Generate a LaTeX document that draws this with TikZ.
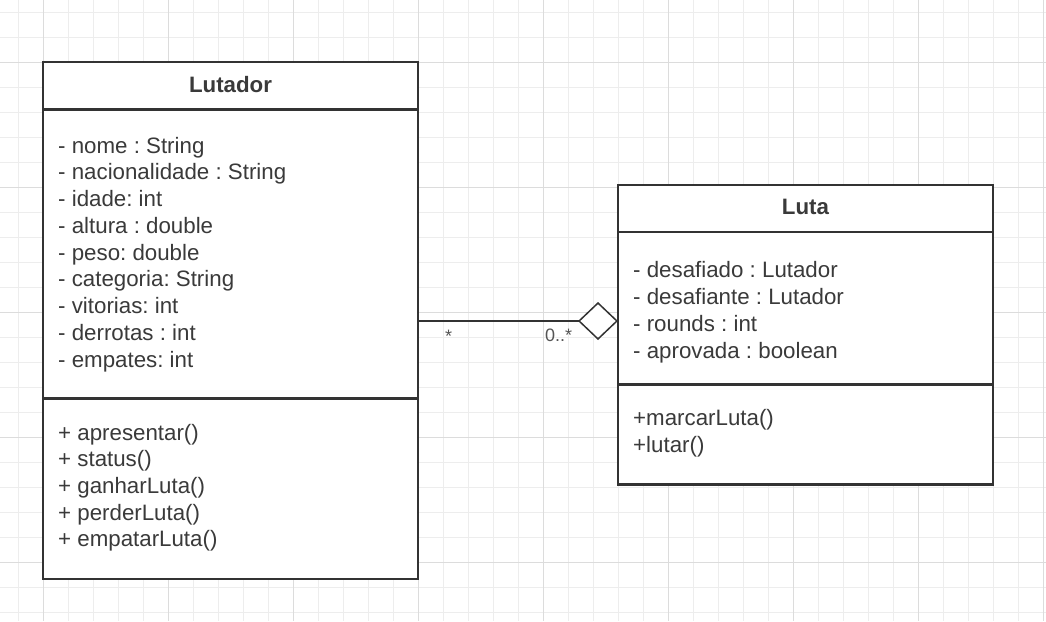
\documentclass[tikz,border=0pt]{standalone}
\usepackage{fontspec}
\setmainfont{Liberation Sans}
\usetikzlibrary{arrows.meta}
\definecolor{ink}{HTML}{333333}
\definecolor{txt}{HTML}{3A3A3A}
\definecolor{lbl}{HTML}{555555}
\definecolor{gridminor}{HTML}{EDEDED}
\definecolor{gridmajor}{HTML}{DCDCDC}
\frenchspacing
\begin{document}
\frenchspacing
\begin{tikzpicture}[x=1pt,y=-1pt,
  compart/.style={draw=ink, line width=2.6pt, fill=white, inner sep=0pt, outer sep=0pt, anchor=north west, minimum width=375pt},
  title/.style={font=\fontsize{22.3}{26}\selectfont\bfseries, text=txt, inner sep=0pt, anchor=base},
  member/.style={font=\fontsize{22.3}{26}\selectfont, text=txt, inner sep=0pt, anchor=base west},
  mult/.style={font=\fontsize{18}{22}\selectfont, text=lbl, inner sep=0pt, anchor=base west},
  assoc/.style={draw=ink, line width=1.5pt, -{Diamond[open, fill=white, length=40pt, width=38pt]}}]
\useasboundingbox (0,0) rectangle (1046,621);
\fill[white] (0,0) rectangle (1046,621);
% grid
\foreach \k in {0,...,41} {\draw[gridminor, line width=1.2pt] ({18.3+25*\k},0) -- ({18.3+25*\k},621);}
\foreach \k in {0,...,24} {\draw[gridminor, line width=1.2pt] (0,{12.3+25*\k}) -- (1046,{12.3+25*\k});}
\foreach \k in {0,...,8} {\draw[gridmajor, line width=1.2pt] ({43.3+125*\k},0) -- ({43.3+125*\k},621);}
\foreach \k in {0,...,4} {\draw[gridmajor, line width=1.2pt] (0,{62.3+125*\k}) -- (1046,{62.3+125*\k});}

% Lutador class
\node[compart, minimum height=47.5pt] (lutH) at (43,62) {};
\node[compart, minimum height=289pt] (lutA) at (43,109.5) {};
\node[compart, minimum height=180.5pt] (lutM) at (43,398.5) {};
\node[title] (lutT) at (230.5,92) {Lutador};
\foreach \t [count=\i from 0] in {- nome : String, - nacionalidade : String, - idade: int, - altura : double, - peso: double, - categoria: String, - vitorias: int, - derrotas : int, - empates: int}
  \node[member] (lutA\i) at (58,{153+26.75*\i}) {\t};
\foreach \t [count=\i from 0] in {+ apresentar(), + status(), + ganharLuta(), + perderLuta(), + empatarLuta()}
  \node[member] (lutM\i) at (58,{440+26.7*\i}) {\t};

% Luta class
\node[compart, minimum height=47pt] (lutaH) at (618,185) {};
\node[compart, minimum height=152.5pt] (lutaA) at (618,232) {};
\node[compart, minimum height=100pt] (lutaM) at (618,384.5) {};
\node[title] (lutaT) at (805.5,214) {Luta};
\foreach \t [count=\i from 0] in {- desafiado : Lutador, - desafiante : Lutador, - rounds : int, - aprovada : boolean}
  \node[member] (lutaA\i) at (633,{277+27*\i}) {\t};
\foreach \t [count=\i from 0] in {+marcarLuta(), +lutar()}
  \node[member] (lutaM\i) at (633,{425.5+26.5*\i}) {\t};

% association (aggregation)
\coordinate (lvl) at (0,321);
\draw[assoc] (lutA.east |- lvl) -- (lutaA.west |- lvl);
\node[mult] (m1) at (445,342) {*};
\node[mult] (m2) at (545,341) {0..*};
\end{tikzpicture}
\end{document}
